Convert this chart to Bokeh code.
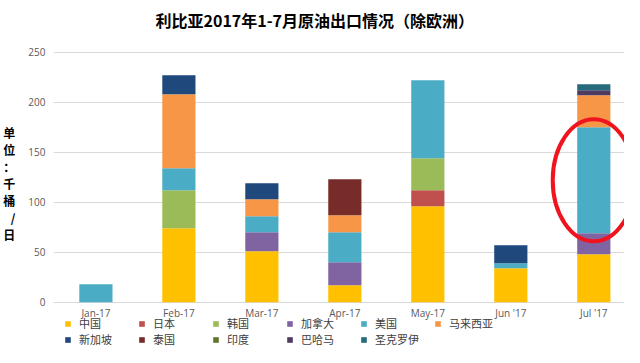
from bokeh.plotting import figure
from bokeh.models import ColumnDataSource, Legend, LegendItem, FixedTicker
from bokeh.core.properties import value
from bokeh.embed import file_html
from bokeh.resources import INLINE

months = ["Jan-17", "Feb-17", "Mar-17", "Apr-17", "May-17", "Jun '17", "Jul '17"]
series_names = ["中国", "日本", "韩国", "加拿大", "美国", "马来西亚",
                "新加坡", "泰国", "印度", "巴哈马", "圣克罗伊"]
china     = [0, 74, 51, 17, 96, 34, 48]
japan     = [0, 0, 0, 0, 16, 0, 0]
korea     = [0, 38, 0, 0, 32, 0, 0]
canada    = [0, 0, 19, 23, 0, 0, 21]
usa       = [18, 22, 16, 30, 78, 5, 106]
malaysia  = [0, 74, 17, 17, 0, 0, 32]
singapore = [0, 19, 16, 0, 0, 18, 0]
thailand  = [0, 0, 0, 36, 0, 0, 0]
india     = [0, 0, 0, 0, 0, 0, 0]
bahamas   = [0, 0, 0, 0, 0, 0, 5]
stcroix   = [0, 0, 0, 0, 0, 0, 6]
colors = ["#FFC000", "#C0504D", "#9BBB59", "#8064A2", "#4BACC6", "#F79646",
          "#1F497D", "#772C2A", "#5F7530", "#4D3B62", "#276A7C"]
y_ticks = [0, 50, 100, 150, 200, 250]
unit_label = "单\n位\n：\n千\n桶\n/\n日\n"

keys = ["s%d" % i for i in range(len(series_names))]
values = [china, japan, korea, canada, usa, malaysia, singapore, thailand, india, bahamas, stcroix]
xs = list(range(len(months)))
data = {"x": xs}
for k, v in zip(keys, values):
    data[k] = v
source = ColumnDataSource(data)

CJK = "Noto Sans CJK SC"
# pixel scale ~1.02 px per unit; frame extends below zero to hold month labels & legend
p = figure(width=624, height=347, output_backend="svg", toolbar_location=None,
           x_range=(-0.511, 6.37), y_range=(-45.1, 265.7),
           title="利比亚2017年1-7月原油出口情况（除欧洲）",
           min_border_left=52, min_border_right=0, min_border_top=30, min_border_bottom=0)
p.title.align = "left"
p.title.offset = 102
p.title.text_font = CJK
p.title.text_font_size = "16px"
p.title.text_font_style = "bold"
p.title.text_color = "#000000"

renderers = p.vbar_stack(keys, x="x", width=0.4, color=colors, source=source, line_width=0)

# month labels under the bars
p.text(x=xs, y=[-10.8] * len(xs), text=months, text_font=value("Open Sans"),
       text_font_size="10px", text_color="#595959", text_align="center",
       text_baseline="middle")

# annotation ellipse around July's US segment
jul = 6
us_bottom = china[jul] + japan[jul] + korea[jul] + canada[jul]
p.ellipse(x=[jul], y=[us_bottom + usa[jul] / 2], width=0.99, height=usa[jul] * 1.15,
          fill_color=None, line_color="#F0141E", line_width=4)

p.outline_line_color = None
p.xaxis.visible = False
p.xgrid.grid_line_color = None
p.ygrid.grid_line_color = "#D9D9D9"
p.yaxis.ticker = FixedTicker(ticks=y_ticks)
p.yaxis.axis_line_color = None
p.yaxis.major_tick_line_color = None
p.yaxis.minor_tick_line_color = None
p.yaxis.major_tick_out = 0
p.yaxis.major_label_standoff = 8
p.yaxis.major_label_text_color = "#595959"
p.yaxis.major_label_text_font = "Open Sans"
p.yaxis.major_label_text_font_size = "10px"
p.yaxis.axis_label = unit_label
p.yaxis.axis_label_orientation = "horizontal"
p.yaxis.axis_label_text_font = CJK
p.yaxis.axis_label_text_font_size = "12px"
p.yaxis.axis_label_text_font_style = "bold"
p.yaxis.axis_label_text_color = "#000000"
p.yaxis.axis_label_text_line_height = 1.0
p.yaxis.axis_label_standoff = 10

items = [LegendItem(label=n, renderers=[r]) for n, r in zip(series_names, renderers)]
legend = Legend(items=items, orientation="horizontal", ncols=6, location=(11, 0),
                glyph_width=7, glyph_height=7, label_standoff=8, label_width=59,
                label_height=12, spacing=0, margin=0, padding=2, label_text_font=CJK,
                label_text_font_size="11px", label_text_color="#404040",
                border_line_color=None, background_fill_alpha=0)
p.add_layout(legend)

open("out.html", "w").write(file_html(p, INLINE))
